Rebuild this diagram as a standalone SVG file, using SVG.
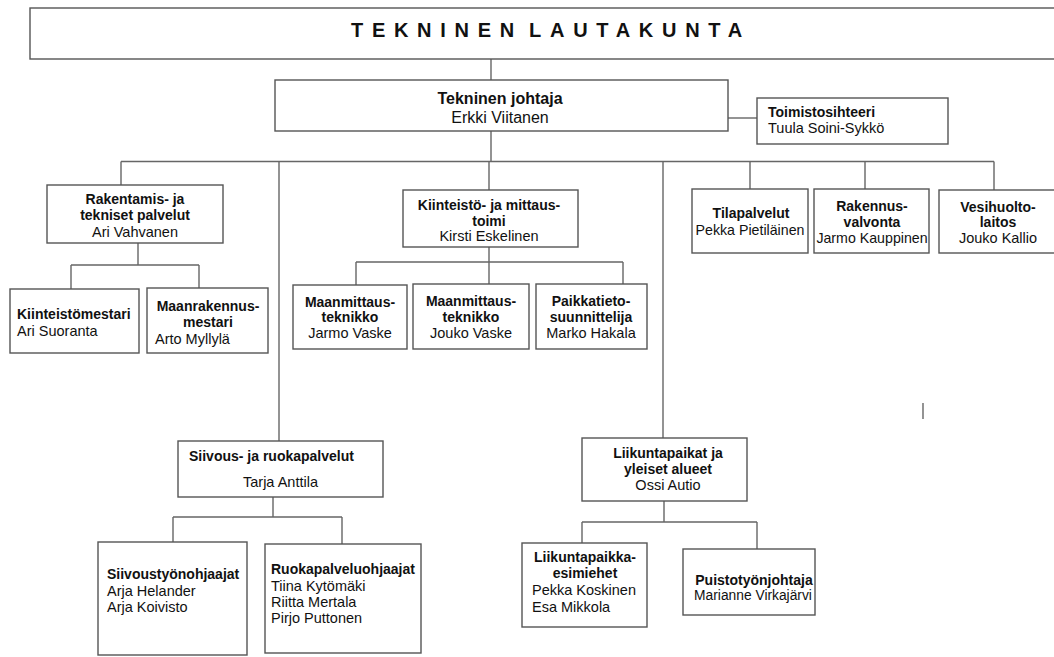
<svg xmlns="http://www.w3.org/2000/svg" width="1054" height="657" viewBox="0 0 1054 657">
<style>
.box{fill:#fff;stroke:#555;stroke-width:1.4}
.ln{stroke:#666;stroke-width:1.4;fill:none}
text{font-family:"Liberation Sans",Arial,sans-serif;fill:#111}
.b{font-weight:bold;font-size:14px}
.n{font-size:14.5px}
.c{text-anchor:middle}
.big{font-size:16px}
</style>
<rect width="1054" height="657" fill="#fff"/>
<g id="connectors">
<path class="ln" d="M491 59V80"/>
<path class="ln" d="M728 118H757"/>
<path class="ln" d="M491 131V161.5M121 161.5H994"/>
<path class="ln" d="M121 161.5V185M279 161.5V441M489 161.5V190M663 161.5V438M750 161.5V189M865 161.5V189M994 161.5V190"/>
<path class="ln" d="M138 243V265M71 265H199M71 265V289M199 265V288"/>
<path class="ln" d="M489 247V262M356 262H623M356 262V285M489 262V284M623 262V284"/>
<path class="ln" d="M273 497V517M173 517H342M173 517V542M342 517V544"/>
<path class="ln" d="M664 501V522M582 522H757M582 522V543M757 522V549"/>
<path class="ln" d="M923 403V419"/>
</g>
<g id="lautakunta">
<rect class="box" x="30" y="8" width="1040" height="51"/>
<text x="351" y="37" style="font-weight:bold;font-size:20px;letter-spacing:8.7px;word-spacing:-8px">TEKNINEN LAUTAKUNTA</text>
</g>
<g id="johtaja">
<rect class="box" x="275" y="80" width="453" height="51"/>
<text class="b big c" x="500" y="104">Tekninen johtaja</text>
<text class="n big c" x="500" y="123">Erkki Viitanen</text>
</g>
<g id="toimistosihteeri">
<rect class="box" x="757" y="98" width="191" height="46"/>
<text class="b" x="768" y="117">Toimistosihteeri</text>
<text class="n" x="768" y="133">Tuula Soini-Sykkö</text>
</g>
<g id="rakentamis">
<rect class="box" x="47" y="185" width="176" height="58"/>
<text class="b c" x="135" y="204">Rakentamis- ja</text>
<text class="b c" x="135" y="220">tekniset palvelut</text>
<text class="n c" x="135" y="237">Ari Vahvanen</text>
</g>
<g id="kiinteistomestari">
<rect class="box" x="10" y="289" width="129" height="64"/>
<text class="b" x="17" y="319">Kiinteistömestari</text>
<text class="n" x="17" y="336">Ari Suoranta</text>
</g>
<g id="maanrakennusmestari">
<rect class="box" x="147" y="288" width="121" height="65"/>
<text class="b c" x="208" y="311">Maanrakennus-</text>
<text class="b c" x="208" y="327">mestari</text>
<text class="n" x="155" y="344">Arto Myllylä</text>
</g>
<g id="kiinteisto">
<rect class="box" x="403" y="190" width="175" height="57"/>
<text class="b c" x="489" y="210">Kiinteistö- ja mittaus-</text>
<text class="b c" x="489" y="226">toimi</text>
<text class="n c" x="489" y="241">Kirsti Eskelinen</text>
</g>
<g id="maanmittaus1">
<rect class="box" x="293" y="285" width="114" height="64"/>
<text class="b c" x="350" y="307">Maanmittaus-</text>
<text class="b c" x="350" y="322">teknikko</text>
<text class="n c" x="350" y="338">Jarmo Vaske</text>
</g>
<g id="maanmittaus2">
<rect class="box" x="413" y="284" width="116" height="65"/>
<text class="b c" x="471" y="306">Maanmittaus-</text>
<text class="b c" x="471" y="322">teknikko</text>
<text class="n c" x="471" y="338">Jouko Vaske</text>
</g>
<g id="paikkatieto">
<rect class="box" x="536" y="284" width="111" height="65"/>
<text class="b c" x="591" y="306">Paikkatieto-</text>
<text class="b c" x="591" y="322">suunnittelija</text>
<text class="n c" x="591" y="338">Marko Hakala</text>
</g>
<g id="tilapalvelut">
<rect class="box" x="692" y="189" width="116" height="64"/>
<text class="b c" x="751" y="218">Tilapalvelut</text>
<text class="n c" x="750" y="235" style="font-size:14.2px">Pekka Pietiläinen</text>
</g>
<g id="rakennusvalvonta">
<rect class="box" x="814" y="189" width="115" height="64"/>
<text class="b c" x="872" y="211">Rakennus-</text>
<text class="b c" x="872" y="227">valvonta</text>
<text class="n c" x="872" y="243" style="font-size:14.2px">Jarmo Kauppinen</text>
</g>
<g id="vesihuolto">
<rect class="box" x="939" y="190" width="130" height="63"/>
<text class="b c" x="998" y="212">Vesihuolto-</text>
<text class="b c" x="998" y="227">laitos</text>
<text class="n c" x="998" y="243">Jouko Kallio</text>
</g>
<g id="siivous">
<rect class="box" x="178" y="441" width="205" height="56"/>
<text class="b" x="189" y="461">Siivous- ja ruokapalvelut</text>
<text class="n" x="243" y="487">Tarja Anttila</text>
</g>
<g id="siivoustyonohjaajat">
<rect class="box" x="98" y="542" width="149" height="113"/>
<text class="b" x="107" y="579">Siivoustyönohjaajat</text>
<text class="n" x="107" y="596">Arja Helander</text>
<text class="n" x="107" y="612">Arja Koivisto</text>
</g>
<g id="ruokapalveluohjaajat">
<rect class="box" x="265" y="544" width="156" height="109"/>
<text class="b" x="271" y="574">Ruokapalveluohjaajat</text>
<text class="n" x="271" y="591">Tiina Kytömäki</text>
<text class="n" x="271" y="607">Riitta Mertala</text>
<text class="n" x="271" y="623">Pirjo Puttonen</text>
</g>
<g id="liikuntapaikat">
<rect class="box" x="582" y="438" width="165" height="63"/>
<text class="b c" x="668" y="458">Liikuntapaikat ja</text>
<text class="b c" x="668" y="474">yleiset alueet</text>
<text class="n c" x="668" y="490">Ossi Autio</text>
</g>
<g id="liikuntapaikkaesimiehet">
<rect class="box" x="522" y="543" width="125" height="84"/>
<text class="b c" x="585" y="562">Liikuntapaikka-</text>
<text class="b c" x="585" y="578">esimiehet</text>
<text class="n" x="532" y="595">Pekka Koskinen</text>
<text class="n" x="532" y="612">Esa Mikkola</text>
</g>
<g id="puistotyonjohtaja">
<rect class="box" x="683" y="549" width="132" height="66"/>
<text class="b c" x="754" y="585">Puistotyönjohtaja</text>
<text class="n c" x="753" y="600" style="font-size:13.8px">Marianne Virkajärvi</text>
</g>
</svg>
